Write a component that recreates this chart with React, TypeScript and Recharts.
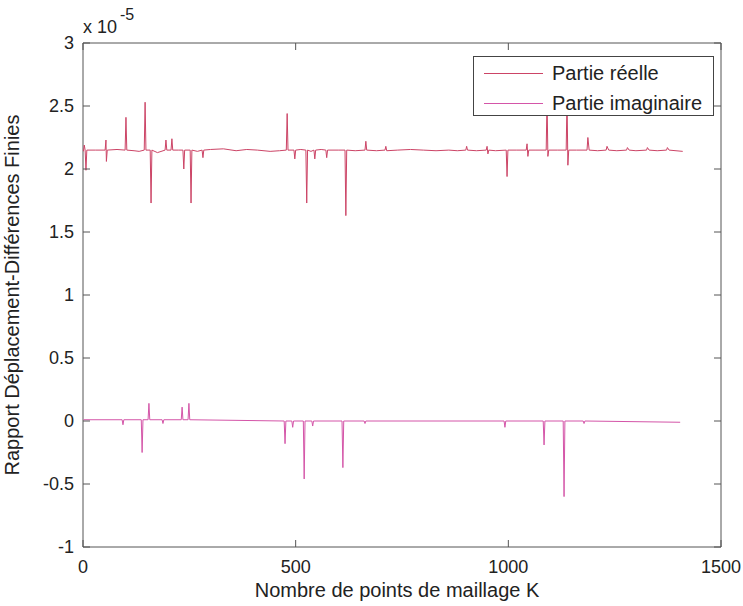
import React from 'react';
import { LineChart, Line, XAxis, YAxis, ReferenceArea, Legend } from 'recharts';

// Partie réelle (×1e-5)
const realX = [1, 3, 5, 7, 9, 30, 52, 54, 55, 57, 80, 99, 101, 103, 120, 132, 144, 146, 148, 158, 160, 162, 175, 193, 195, 197, 207, 209, 211, 224, 235, 237, 239, 252, 254, 256, 269, 280, 282, 284, 300, 330, 360, 385, 410, 440, 462, 478, 480, 482, 496, 498, 500, 512, 524, 526, 528, 536, 543, 545, 547, 560, 571, 573, 575, 600, 616, 618, 620, 640, 663, 665, 667, 690, 710, 712, 714, 740, 770, 800, 830, 860, 880, 900, 902, 904, 925, 948, 950, 952, 954, 970, 995, 997, 999, 1020, 1042, 1044, 1046, 1048, 1065, 1089, 1091, 1093, 1095, 1115, 1136, 1138, 1140, 1142, 1160, 1185, 1187, 1190, 1210, 1230, 1232, 1236, 1255, 1278, 1280, 1284, 1300, 1325, 1327, 1331, 1350, 1372, 1374, 1378, 1410];
const realY = [2.14, 2.19, 2.15, 1.99, 2.15, 2.15, 2.15, 2.23, 2.06, 2.15, 2.155, 2.15, 2.41, 2.15, 2.145, 2.14, 2.15, 2.53, 2.15, 2.15, 1.73, 2.15, 2.13, 2.15, 2.23, 2.15, 2.15, 2.24, 2.15, 2.15, 2.15, 2.0, 2.15, 2.15, 1.73, 2.15, 2.14, 2.15, 2.09, 2.15, 2.155, 2.16, 2.145, 2.155, 2.15, 2.14, 2.145, 2.15, 2.44, 2.15, 2.15, 2.08, 2.15, 2.155, 2.15, 1.73, 2.15, 2.14, 2.15, 2.08, 2.15, 2.155, 2.15, 2.09, 2.15, 2.15, 2.15, 1.63, 2.15, 2.145, 2.15, 2.22, 2.15, 2.145, 2.15, 2.18, 2.145, 2.15, 2.155, 2.15, 2.145, 2.15, 2.145, 2.15, 2.18, 2.15, 2.145, 2.15, 2.18, 2.12, 2.15, 2.145, 2.15, 1.94, 2.15, 2.15, 2.15, 2.2, 2.1, 2.15, 2.15, 2.15, 2.56, 2.1, 2.15, 2.15, 2.15, 2.56, 2.03, 2.15, 2.15, 2.15, 2.25, 2.15, 2.145, 2.15, 2.18, 2.15, 2.145, 2.15, 2.17, 2.15, 2.145, 2.15, 2.17, 2.15, 2.145, 2.15, 2.17, 2.15, 2.14];

// Partie imaginaire (×1e-5)
const imagX = [1, 92, 94, 96, 137, 139, 141, 153, 155, 157, 186, 188, 190, 231, 233, 235, 247, 249, 251, 473, 475, 477, 491, 493, 495, 518, 520, 522, 538, 540, 542, 609, 611, 613, 661, 663, 665, 990, 992, 994, 1082, 1084, 1086, 1129, 1131, 1133, 1176, 1178, 1180, 1404];
const imagY = [0.01, 0.01, -0.03, 0.01, 0.01, -0.25, 0.01, 0.01, 0.14, 0.01, 0.01, -0.02, 0.01, 0.01, 0.11, 0.01, 0.01, 0.14, 0.01, 0.0, -0.18, 0.0, 0.0, -0.05, 0.0, 0.0, -0.46, 0.0, 0.0, -0.04, 0.0, 0.0, -0.37, 0.0, 0.0, -0.02, 0.0, 0.0, -0.05, 0.0, 0.0, -0.19, 0.0, 0.0, -0.6, 0.0, 0.0, -0.02, 0.0, -0.01];

const xTicks = [0, 500, 1000, 1500];
const yTicks = [-1, -0.5, 0, 0.5, 1, 1.5, 2, 2.5, 3];

const seriesNames = ['Partie réelle', 'Partie imaginaire'];
const seriesColors = ['#cc4466', '#d455a8'];

const realData = realX.map((x, i) => ({ x, y: realY[i] }));
const imagData = imagX.map((x, i) => ({ x, y: imagY[i] }));

const W = 743;
const H = 606;
const M = { top: 43, right: 22, left: 33, bottom: 29 };
const YAXIS_W = 50;
const XAXIS_H = 30;
const PLOT_LEFT = M.left + YAXIS_W;
const PLOT_TOP = M.top;
const PLOT_RIGHT = W - M.right;
const PLOT_BOTTOM = H - M.bottom - XAXIS_H;
const TICK_LEN = 7;
const FONT = '"Liberation Sans", Arial, sans-serif';
const AXIS_COLOR = '#555';
const TEXT_COLOR = '#222';

const XTick = (props: any) => {
  const { x, payload } = props;
  return (
    <g>
      <line x1={x} x2={x} y1={PLOT_BOTTOM} y2={PLOT_BOTTOM - TICK_LEN} stroke={AXIS_COLOR} />
      <line x1={x} x2={x} y1={PLOT_TOP} y2={PLOT_TOP + TICK_LEN} stroke={AXIS_COLOR} />
      <text x={x} y={PLOT_BOTTOM + 26} textAnchor="middle" fontSize={18} fontFamily={FONT} fill={TEXT_COLOR}>
        {String(payload.value)}
      </text>
    </g>
  );
};

const YTick = (props: any) => {
  const { y, payload } = props;
  return (
    <g>
      <line x1={PLOT_LEFT} x2={PLOT_LEFT + TICK_LEN} y1={y} y2={y} stroke={AXIS_COLOR} />
      <line x1={PLOT_RIGHT} x2={PLOT_RIGHT - TICK_LEN} y1={y} y2={y} stroke={AXIS_COLOR} />
      <text x={PLOT_LEFT - 9} y={y + 6} textAnchor="end" fontSize={18} fontFamily={FONT} fill={TEXT_COLOR}>
        {String(payload.value)}
      </text>
      {payload.value === 3 ? (
        <g>
          <text x={PLOT_LEFT} y={PLOT_TOP - 10} fontSize={18} fontFamily={FONT} fill={TEXT_COLOR}>x 10</text>
          <text x={PLOT_LEFT + 37} y={PLOT_TOP - 23} fontSize={16} fontFamily={FONT} fill={TEXT_COLOR}>-5</text>
        </g>
      ) : null}
    </g>
  );
};

const YLabel = () => {
  const cx = 19;
  const cy = (PLOT_TOP + PLOT_BOTTOM) / 2;
  return (
    <text
      x={cx}
      y={cy}
      transform={`rotate(-90, ${cx}, ${cy})`}
      textAnchor="middle"
      fontSize={20}
      fontFamily={FONT}
      fill={TEXT_COLOR}
    >
      Rapport Déplacement-Différences Finies
    </text>
  );
};

const XLabel = () => (
  <text
    x={397}
    y={597}
    textAnchor="middle"
    fontSize={20}
    fontFamily={FONT}
    fill={TEXT_COLOR}
  >
    Nombre de points de maillage K
  </text>
);

const LegendBox = () => (
  <div
    style={{
      width: 239,
      height: 58,
      border: '1px solid #444',
      background: '#fff',
      fontFamily: FONT,
      fontSize: 20,
      color: TEXT_COLOR,
      position: 'relative',
      boxSizing: 'content-box',
    }}
  >
    {seriesNames.map((name, i) => (
      <div key={name} style={{ position: 'absolute', left: 0, top: 3 + i * 30, height: 24, width: 239 }}>
        <div style={{ position: 'absolute', left: 10, top: 13, width: 59, height: 1, background: seriesColors[i] }} />
        <div style={{ position: 'absolute', left: 78, top: 1, lineHeight: '24px', whiteSpace: 'nowrap' }}>{name}</div>
      </div>
    ))}
  </div>
);

export default function App() {
  return (
    <div style={{ position: 'absolute', left: 0, top: 0, width: W, height: H }}>
      <LineChart width={W} height={H} margin={M}>
        <XAxis
          type="number"
          dataKey="x"
          domain={[0, 1500]}
          ticks={xTicks}
          allowDataOverflow
          axisLine={false}
          tickLine={false}
          height={XAXIS_H}
          tick={<XTick />}
          interval={0}
          label={<XLabel />}
        />
        <YAxis
          type="number"
          dataKey="y"
          domain={[-1, 3]}
          ticks={yTicks}
          allowDataOverflow
          axisLine={false}
          tickLine={false}
          width={YAXIS_W}
          tick={<YTick />}
          interval={0}
          label={<YLabel />}
        />
        <ReferenceArea x1={0} x2={1500} y1={-1} y2={3} fill="none" fillOpacity={0} stroke={AXIS_COLOR} strokeWidth={1} />
        <Line
          data={realData}
          dataKey="y"
          name={seriesNames[0]}
          stroke={seriesColors[0]}
          strokeWidth={1}
          dot={false}
          isAnimationActive={false}
          type="linear"
        />
        <Line
          data={imagData}
          dataKey="y"
          name={seriesNames[1]}
          stroke={seriesColors[1]}
          strokeWidth={1}
          dot={false}
          isAnimationActive={false}
          type="linear"
        />
        <Legend
          layout="vertical"
          align="center"
          verticalAlign="middle"
          wrapperStyle={{ position: 'absolute', left: 473, top: 56, width: 241, height: 60 }}
          content={<LegendBox />}
        />
      </LineChart>
    </div>
  );
}
